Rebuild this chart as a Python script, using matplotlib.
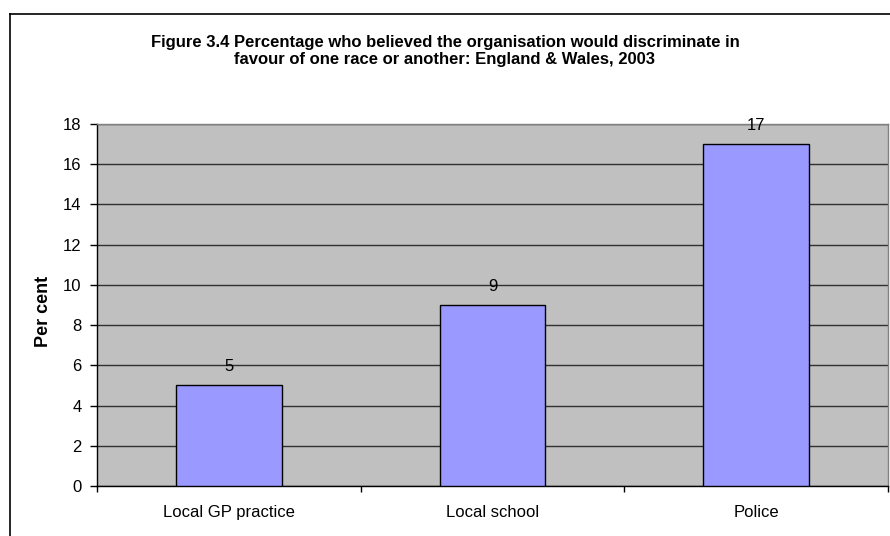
import matplotlib.pyplot as plt
import numpy as np
from matplotlib.lines import Line2D

plt.rcParams['font.family'] = ['Liberation Sans', 'DejaVu Sans']

# data
categories = ['Local GP practice', 'Local school', 'Police']
values = [5, 9, 17]
yticks = [0, 2, 4, 6, 8, 10, 12, 14, 16, 18]
title = ('Figure 3.4 Percentage who believed the organisation would discriminate in\n'
         'favour of one race or another: England & Wales, 2003')

W, H = 890, 536
fig = plt.figure(figsize=(W / 100, H / 100), dpi=100)
fig.patch.set_facecolor('white')

# outer chart border (only left and top visible, rest clipped)
fig.add_artist(Line2D([10 / W, 10 / W], [0, 1 - 14 / H], transform=fig.transFigure,
                      color='black', lw=1.2))
fig.add_artist(Line2D([10 / W, 1], [1 - 14 / H, 1 - 14 / H], transform=fig.transFigure,
                      color='black', lw=1.2))

# plot area: x 97-888, y 124-486 (pixels)
ax = fig.add_axes([97 / W, 1 - 486 / H, (888 - 97) / W, (486 - 124) / H])
ax.set_facecolor('#C0C0C0')

x = np.arange(len(categories))
ax.bar(x, values, width=0.4, color='#9999FF', edgecolor='black', linewidth=1.0, zorder=3)

for xi, v in zip(x, values):
    ax.text(xi, v + 0.55, str(v), ha='center', va='bottom', fontsize=12, zorder=4)

ax.set_xlim(-0.5, len(categories) - 0.5)
ax.set_ylim(0, 18)
ax.set_yticks(yticks)
ax.yaxis.grid(True, color='#303030', linewidth=1.0, zorder=1)
ax.set_axisbelow(True)

ax.set_xticks(x)
ax.set_xticklabels(categories, fontsize=12)
ax.set_xticks(np.arange(len(categories) + 1) - 0.5, minor=True)
ax.tick_params(axis='x', which='major', length=0, pad=14)
ax.tick_params(axis='x', which='minor', length=4, direction='out', width=1)
ax.tick_params(axis='y', length=5, direction='out', width=1, labelsize=12, pad=6)

for s in ['top', 'right']:
    ax.spines[s].set_color('#808080')
    ax.spines[s].set_linewidth(1.0)
for s in ['left', 'bottom']:
    ax.spines[s].set_color('black')
    ax.spines[s].set_linewidth(1.0)

ax.set_ylabel('Per cent', fontsize=13, fontweight='bold')
ax.yaxis.set_label_coords(-45 / (888 - 97), (486 - 311) / (486 - 124))

fig.text(445 / W, 1 - 51 / H, title, ha='center', va='center', fontsize=12,
         fontweight='bold', linespacing=1.1)

plt.savefig('out.png', dpi=100)
